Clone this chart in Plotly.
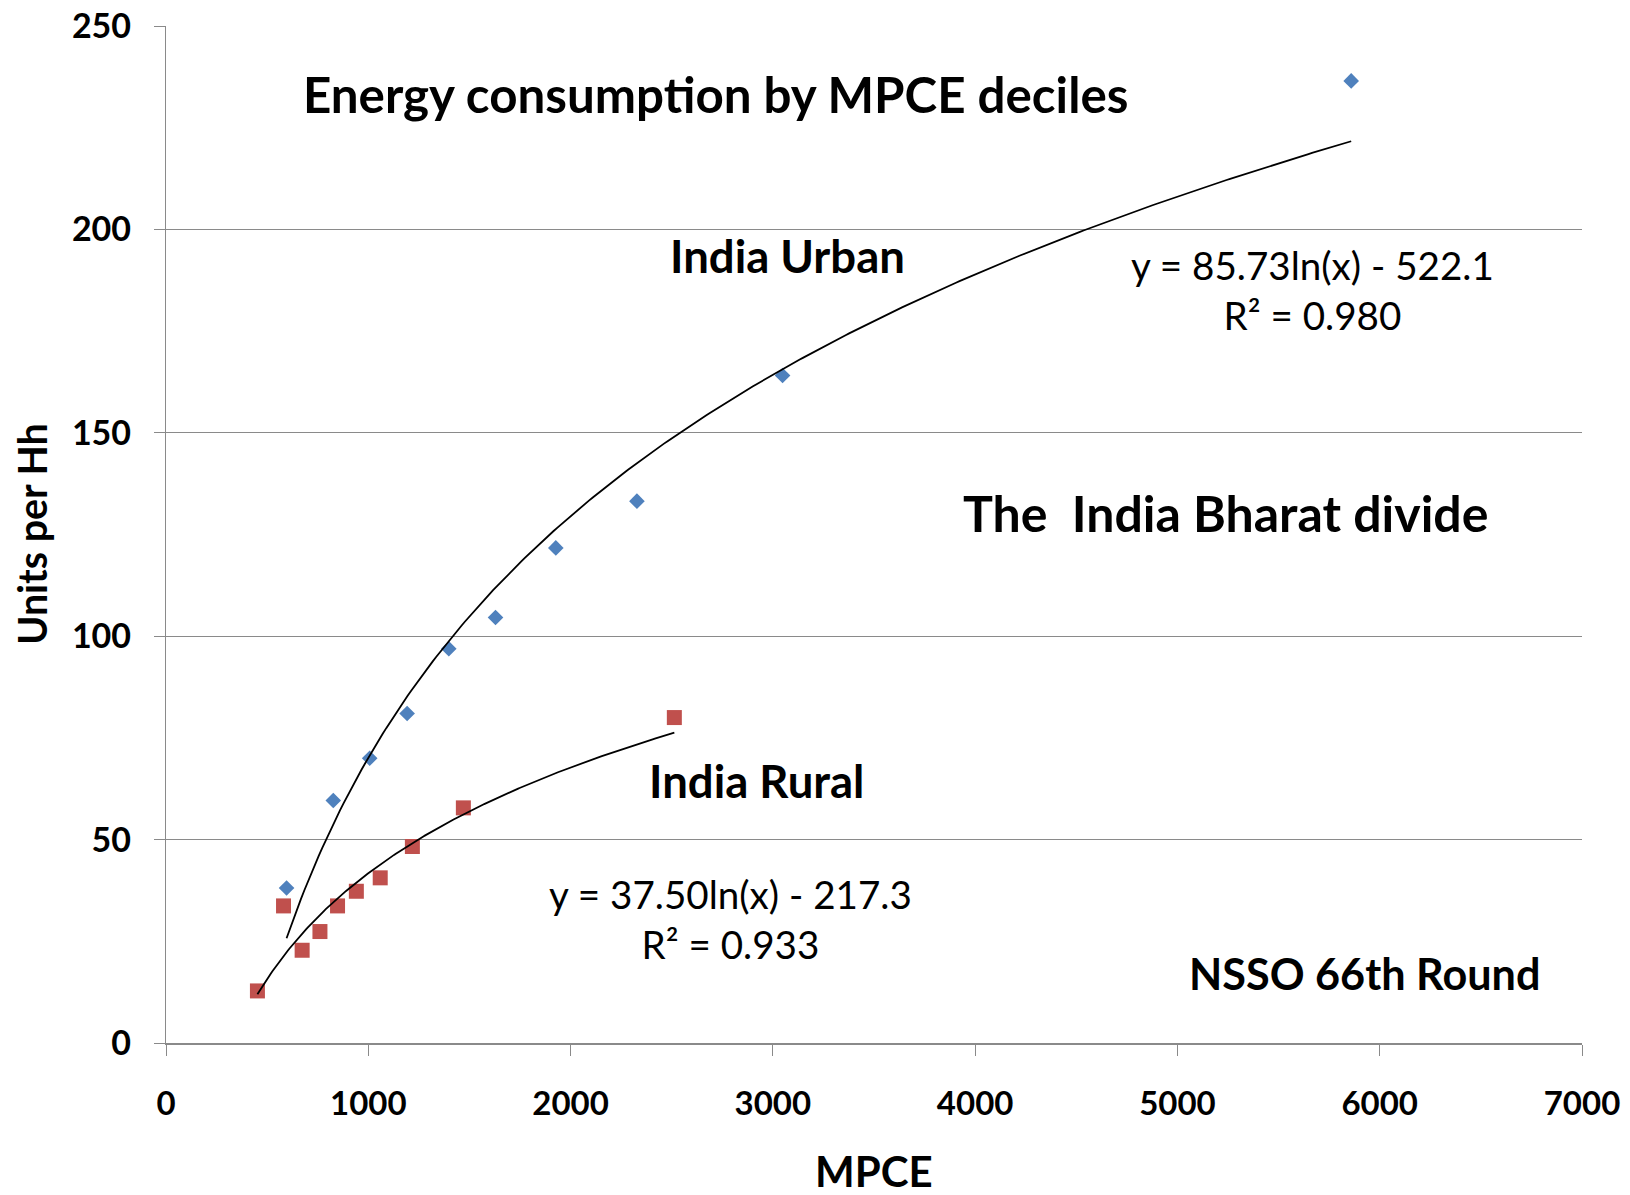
import numpy as np
import plotly.graph_objects as go

# ---------------- data ----------------
urban_mpce = [596, 827, 1007, 1192, 1398, 1629, 1927, 2328, 3048, 5859]
urban_units = [38.1, 59.6, 70.0, 81.0, 96.9, 104.6, 121.7, 133.2, 164.1, 236.5]

rural_mpce = [452, 581, 673, 761, 848, 941, 1059, 1218, 1470, 2513]
rural_units = [12.8, 33.7, 22.8, 27.4, 33.7, 37.3, 40.6, 48.3, 57.8, 80.0]

# log trendline coefficients as printed on the chart (y = a ln(x) + b)
urban_a, urban_b, urban_r2 = 85.73, -522.1, 0.980
rural_a, rural_b, rural_r2 = 37.50, -217.3, 0.933

x_ticks = [0, 1000, 2000, 3000, 4000, 5000, 6000, 7000]
y_ticks = [0, 50, 100, 150, 200, 250]

FONT = "Lato, 'Open Sans', sans-serif"
BLUE = "#4F81BD"
RED = "#C0504D"
GRID = "#8A8A8A"

fig = go.Figure()

fig.add_trace(go.Scatter(
    x=urban_mpce, y=urban_units, mode="markers", name="India Urban",
    marker=dict(symbol="diamond", size=12, color=BLUE, line=dict(width=0)),
))
fig.add_trace(go.Scatter(
    x=rural_mpce, y=rural_units, mode="markers", name="India Rural",
    marker=dict(symbol="square", size=15, color=RED, line=dict(width=0)),
))

# trendlines over the data range
ux = np.linspace(min(urban_mpce), max(urban_mpce), 300)
rx = np.linspace(min(rural_mpce), max(rural_mpce), 300)
fig.add_trace(go.Scatter(x=ux, y=urban_a * np.log(ux) + urban_b, mode="lines",
                         line=dict(color="black", width=1.8), hoverinfo="skip"))
fig.add_trace(go.Scatter(x=rx, y=rural_a * np.log(rx) + rural_b, mode="lines",
                         line=dict(color="black", width=1.8), hoverinfo="skip"))

def ann(text, x, y, size, bold=True, xref="x", yref="y", angle=0):
    fig.add_annotation(
        text=f"<b>{text}</b>" if bold else text, x=x, y=y, xref=xref, yref=yref,
        showarrow=False, xanchor="center", yanchor="middle", textangle=angle,
        font=dict(family=FONT, size=size, color="black"),
    )

ann("Energy consumption by MPCE deciles", 2714, 233.3, 49.3)
ann("India Urban", 3070, 193.6, 45.5)
ann(f"y = {urban_a:.2f}ln(x) - {abs(urban_b):.1f}<br>R² = {urban_r2:.3f}", 5670, 185.0, 38.6, bold=False)
ann("The  India Bharat divide", 5240, 130.2, 50)
ann("India Rural", 2917, 64.5, 45.5)
ann(f"y = {rural_a:.2f}ln(x) - {abs(rural_b):.1f}<br>R² = {rural_r2:.3f}", 2793, 30.6, 38.6, bold=False)
ann("NSSO 66th Round", 5927, 17.1, 43.2)

# axis titles
ann("MPCE", 0.5, -0.126, 42, xref="paper", yref="paper")
ann("Units per Hh", -0.0952, 0.5, 39.4, xref="paper", yref="paper", angle=-90)

fig.update_layout(
    width=1630, height=1195,
    margin=dict(l=166, r=48, t=26, b=152, autoexpand=False),
    paper_bgcolor="white", plot_bgcolor="white",
    showlegend=False,
    font=dict(family=FONT, color="black"),
)
fig.update_xaxes(
    range=[0, 7000], tickvals=x_ticks, ticktext=[f"<b>{v}</b>" for v in x_ticks],
    tickfont=dict(family=FONT, size=33, color="black"),
    showgrid=False, zeroline=False, showline=True, linecolor=GRID, linewidth=2.2,
    ticks="outside", ticklen=11, tickcolor=GRID, tickwidth=1.3,
    ticklabelstandoff=19, automargin=False,
)
fig.update_yaxes(
    range=[0, 250], tickvals=y_ticks, ticktext=[f"<b>{v}</b>" for v in y_ticks],
    tickfont=dict(family=FONT, size=34, color="black"),
    showgrid=True, gridcolor=GRID, gridwidth=1.3,
    zeroline=False, showline=True, linecolor=GRID, linewidth=1.3,
    ticks="outside", ticklen=11, tickcolor=GRID, tickwidth=1.3,
    ticklabelstandoff=16, automargin=False,
)

fig.write_html(
    "out.html",
    config={"displayModeBar": False},
    post_script="document.body.style.margin='0';document.body.style.overflow='hidden';",
)
